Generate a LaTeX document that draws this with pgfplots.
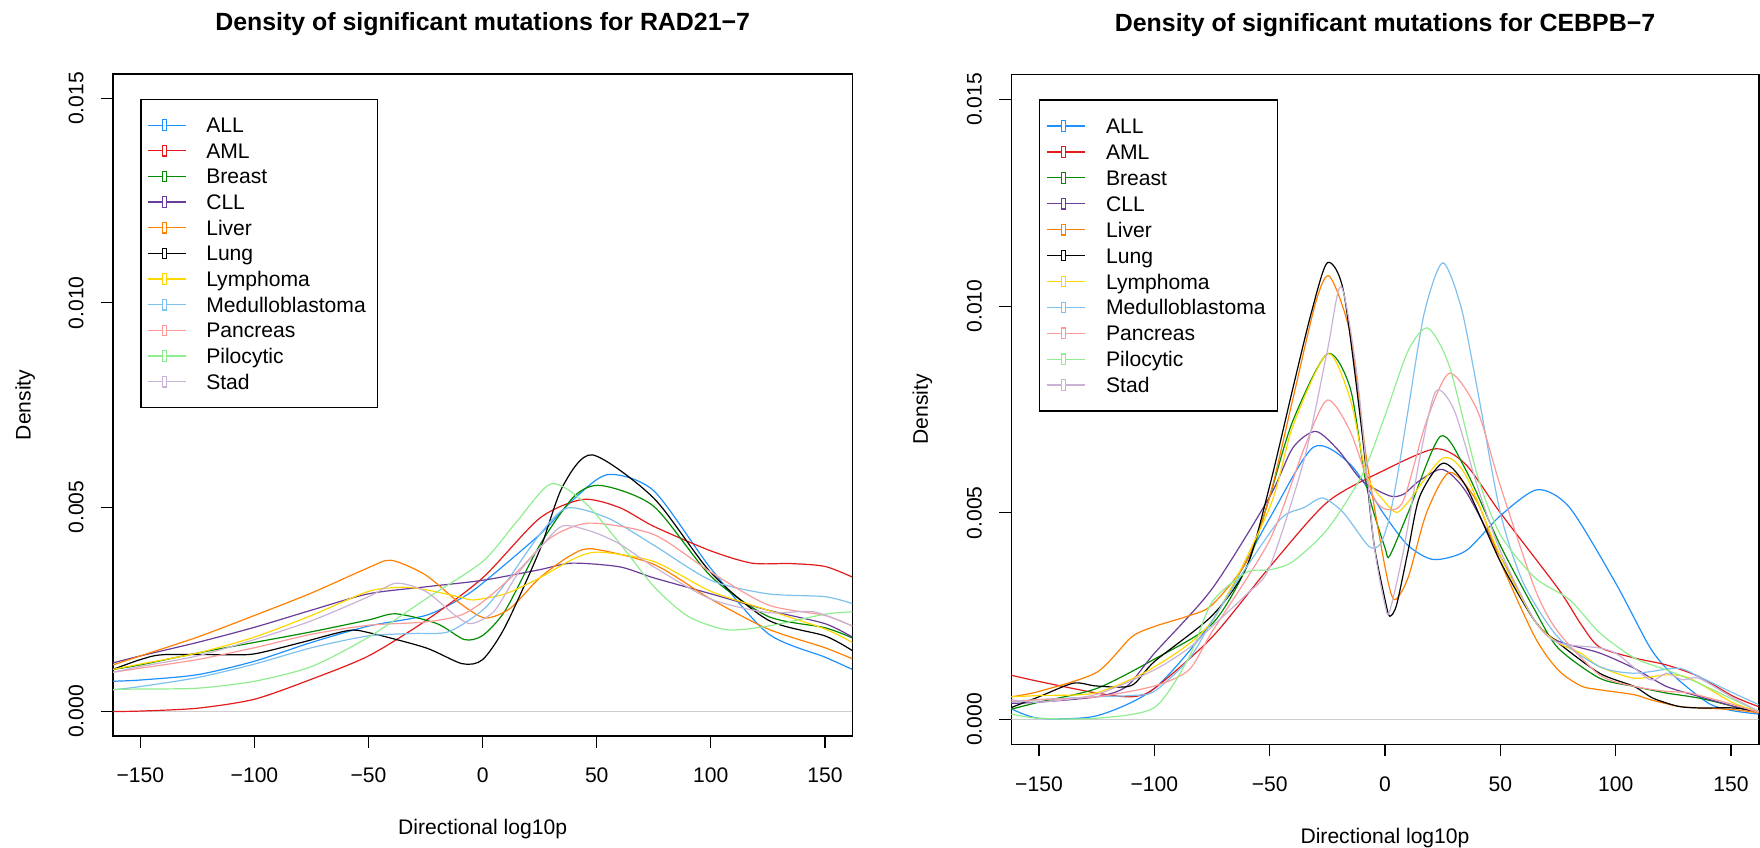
\documentclass[border=0pt]{standalone}
\usepackage{pgfplots}
\pgfplotsset{compat=1.18}
\usepackage{fontspec}
\setmainfont{Liberation Sans}

\definecolor{cALL}{RGB}{30,144,255}
\definecolor{cAML}{RGB}{228,26,28}
\definecolor{cBreast}{RGB}{0,139,0}
\definecolor{cCLL}{RGB}{106,61,154}
\definecolor{cLiver}{RGB}{255,127,0}
\definecolor{cLung}{RGB}{0,0,0}
\definecolor{cLymph}{RGB}{255,215,0}
\definecolor{cMed}{RGB}{126,192,238}
\definecolor{cPanc}{RGB}{251,154,153}
\definecolor{cPilo}{RGB}{144,238,144}
\definecolor{cStad}{RGB}{202,178,214}
\definecolor{zeroline}{RGB}{205,205,205}

\newcommand{\lblfont}{\fontsize{10.55}{12}\selectfont}

\pgfplotsset{
  rpanel/.style={
    scale only axis,
    xmin=-162, xmax=162, ymin=-0.0006, ymax=0.0156,
    axis line style={line width=0.8pt},
    xtick={-150,-100,-50,0,50,100,150},
    xticklabels={−150,−100,−50,0,50,100,150},
    ytick={0,0.005,0.01,0.015},
    yticklabels={0.000,0.005,0.010,0.015},
    scaled y ticks=false, scaled x ticks=false,
    xtick pos=bottom, ytick pos=left,
    tick align=outside,
    major tick length=6pt,
    tick style={line width=0.6pt, black},
    every tick label/.append style={font=\lblfont, inner sep=0pt},
    xticklabel style={anchor=base},
    xlabel={Directional log10p},
    ylabel={Density},
    label style={font=\lblfont},
    title style={font=\fontsize{12.45}{14}\selectfont\bfseries, at={(0.5,1)}, anchor=base, inner sep=0pt, yshift=15.8pt},
    legend cell align=left,
    legend image code/.code={
      \draw[##1, line width=0.6pt] (0pt,0pt) -- (19.2pt,0pt);
      \draw[##1, line width=0.6pt, fill=white] (7.35pt,-2.62pt) rectangle (9.25pt,2.62pt);
    },
    every axis plot/.append style={line width=0.6pt, smooth, tension=0.45},
  }
}

\begin{document}
\begin{tikzpicture}
\useasboundingbox (0,0) rectangle (880pt,423.5pt);

% ---------------- Left panel ----------------
\begin{axis}[rpanel,
  at={(56.5pt,55.5pt)}, anchor=south west,
  width=369.65pt, height=331pt,
  title={Density of significant mutations for RAD21−7},
  xticklabel style={yshift=-17.3pt},
  yticklabel style={rotate=90, anchor=base, yshift=8.85pt},
  xlabel style={at={(axis description cs:0.5,0)}, anchor=base, inner sep=0pt, yshift=-49.1pt},
  ylabel style={at={(axis description cs:0,0.5)}, rotate=0, anchor=base, inner sep=0pt, yshift=41.2pt},
  legend style={at={(0.037037,0.962963)}, anchor=north west, draw=black, line width=0.6pt,
    inner xsep=3.2pt, inner ysep=6.58pt, row sep=0pt, column sep=9.65pt, font=\lblfont,
    nodes={inner sep=0pt, text height=10.19pt, text depth=2.64pt, text width=82.3pt, align=left}},
]
\addplot[zeroline, line width=0.6pt, forget plot, sharp plot] coordinates {(-162,0) (162,0)};
\addplot[cALL] coordinates {(-162,0.00074)(-150,0.00077)(-125,0.0009)(-100,0.00123)(-75,0.00169)(-50,0.00209)(-25,0.00235)(-10,0.00275)(0,0.00314)(25,0.00433)(40,0.0052)(55,0.0058)(75,0.0054)(100,0.0035)(125,0.00191)(150,0.00133)(162,0.00103)};
\addlegendentry{ALL}
\addplot[cAML] coordinates {(-162,0.0)(-150,0.00001)(-125,0.00008)(-100,0.0003)(-75,0.00079)(-50,0.00136)(-25,0.00222)(0,0.00327)(25,0.00473)(44,0.00519)(60,0.00499)(75,0.00453)(100,0.00393)(118,0.00363)(135,0.00362)(150,0.00355)(162,0.00329)};
\addlegendentry{AML}
\addplot[cBreast] coordinates {(-162,0.00103)(-150,0.00114)(-125,0.00143)(-100,0.00169)(-75,0.00195)(-50,0.00224)(-38,0.00239)(-20,0.00215)(-8,0.00176)(0,0.00186)(10,0.00248)(25,0.00407)(40,0.00526)(52,0.00553)(75,0.00502)(100,0.00331)(125,0.00233)(150,0.00205)(162,0.0018)};
\addlegendentry{Breast}
\addplot[cCLL] coordinates {(-162,0.00119)(-150,0.00136)(-125,0.00169)(-100,0.00206)(-75,0.00248)(-50,0.00288)(-25,0.00305)(0,0.00321)(25,0.00347)(39,0.00363)(60,0.00354)(75,0.00327)(100,0.00288)(125,0.00248)(150,0.00215)(162,0.00182)};
\addlegendentry{CLL}
\addplot[cLiver] coordinates {(-162,0.00114)(-150,0.00136)(-125,0.00182)(-100,0.00235)(-75,0.0029)(-50,0.00352)(-40,0.0037)(-25,0.00334)(-10,0.00265)(1,0.00229)(12,0.00252)(25,0.00327)(38,0.0038)(48,0.00398)(75,0.0036)(100,0.00275)(125,0.00202)(150,0.00156)(162,0.00129)};
\addlegendentry{Liver}
\addplot[cLung] coordinates {(-162,0.00103)(-150,0.00127)(-140,0.00139)(-113,0.00139)(-100,0.00141)(-80,0.00168)(-59,0.00198)(-50,0.00193)(-25,0.00156)(-9,0.00117)(0,0.00127)(10,0.00209)(25,0.00395)(35,0.0055)(48,0.00628)(75,0.00522)(100,0.0034)(125,0.00224)(150,0.00185)(162,0.00149)};
\addlegendentry{Lung}
\addplot[cLymph] coordinates {(-162,0.00103)(-150,0.00116)(-125,0.00143)(-100,0.00182)(-75,0.00235)(-50,0.00294)(-35,0.00304)(-25,0.00298)(-10,0.0028)(-4,0.00273)(10,0.00288)(25,0.00327)(40,0.00374)(51,0.0039)(75,0.00367)(100,0.00294)(125,0.00248)(150,0.00202)(162,0.00169)};
\addlegendentry{Lymphoma}
\addplot[cMed] coordinates {(-162,0.00053)(-150,0.00061)(-125,0.00083)(-100,0.00116)(-75,0.00156)(-50,0.00185)(-30,0.00191)(-15,0.00195)(0,0.00248)(10,0.00314)(25,0.00433)(37,0.00498)(55,0.00473)(75,0.00407)(100,0.00321)(125,0.00288)(150,0.00281)(162,0.00264)};
\addlegendentry{Medulloblastoma}
\addplot[cPanc] coordinates {(-162,0.00096)(-150,0.00106)(-125,0.00127)(-100,0.00156)(-75,0.00189)(-50,0.00211)(-25,0.00219)(-10,0.00235)(0,0.00268)(15,0.00341)(30,0.00426)(47,0.00461)(75,0.00433)(100,0.00341)(125,0.00261)(150,0.00235)(162,0.00209)};
\addlegendentry{Pancreas}
\addplot[cPilo] coordinates {(-162,0.00054)(-150,0.00055)(-125,0.00057)(-100,0.00074)(-75,0.0011)(-50,0.00182)(-25,0.00275)(0,0.00367)(15,0.00465)(30,0.00557)(45,0.0051)(60,0.00412)(75,0.00306)(90,0.00233)(107,0.002)(125,0.00209)(150,0.00238)(162,0.00244)};
\addlegendentry{Pilocytic}
\addplot[cStad] coordinates {(-162,0.00096)(-150,0.0011)(-125,0.00136)(-100,0.00176)(-75,0.00222)(-50,0.00281)(-38,0.00314)(-25,0.00294)(-12,0.00235)(-5,0.00215)(5,0.00245)(15,0.00334)(25,0.004)(35,0.00454)(48,0.0044)(60,0.0041)(75,0.00354)(100,0.00275)(125,0.00242)(145,0.00244)(162,0.00209)};
\addlegendentry{Stad}
\end{axis}

% ---------------- Right panel ----------------
\begin{axis}[rpanel,
  at={(505.65pt,51.35pt)}, anchor=south west,
  width=373.7pt, height=334.8pt,
  title={Density of significant mutations for CEBPB−7},
  xticklabel style={yshift=-17.8pt},
  yticklabel style={rotate=90, anchor=base, yshift=8.8pt},
  xlabel style={at={(axis description cs:0.5,0)}, anchor=base, inner sep=0pt, yshift=-49.75pt},
  ylabel style={at={(axis description cs:0,0.5)}, rotate=0, anchor=base, inner sep=0pt, yshift=41.7pt},
  legend style={at={(0.037037,0.962963)}, anchor=north west, draw=black, line width=0.6pt,
    inner xsep=3.3pt, inner ysep=6.52pt, row sep=0pt, column sep=10.15pt, font=\lblfont,
    nodes={inner sep=0pt, text height=10.25pt, text depth=2.7pt, text width=82.55pt, align=left}},
]
\addplot[zeroline, line width=0.6pt, forget plot, sharp plot] coordinates {(-162,0) (162,0)};
\addplot[cALL] coordinates {(-162,0.00026)(-150,0.00003)(-125,0.00009)(-100,0.00075)(-75,0.00238)(-50,0.00487)(-31,0.00659)(-15,0.00617)(0,0.00493)(10,0.00421)(21,0.00387)(35,0.00408)(50,0.00493)(66,0.00556)(80,0.00513)(100,0.0033)(115,0.00173)(125,0.00107)(140,0.0004)(150,0.00022)(162,0.00013)};
\addlegendentry{ALL}
\addplot[cAML] coordinates {(-162,0.00107)(-150,0.00092)(-125,0.00064)(-110,0.00055)(-100,0.00075)(-75,0.00199)(-50,0.00369)(-25,0.00526)(0,0.00604)(22,0.00655)(35,0.00617)(50,0.005)(75,0.00317)(85,0.0023)(93,0.00175)(108,0.00149)(122,0.00132)(136,0.00104)(151,0.00056)(162,0.00031)};
\addlegendentry{AML}
\addplot[cBreast] coordinates {(-162,0.00025)(-150,0.00042)(-125,0.00075)(-100,0.00146)(-75,0.00231)(-60,0.00369)(-50,0.00539)(-40,0.00722)(-25,0.00885)(-15,0.008)(-8,0.00565)(0,0.00415)(2,0.00396)(10,0.005)(24,0.00685)(35,0.00604)(50,0.00421)(65,0.00264)(75,0.00173)(93,0.001)(108,0.0008)(122,0.00064)(136,0.00052)(151,0.00032)(162,0.00016)};
\addlegendentry{Breast}
\addplot[cCLL] coordinates {(-162,0.00039)(-150,0.00042)(-125,0.00055)(-112,0.0008)(-100,0.0016)(-75,0.00316)(-50,0.00539)(-40,0.00657)(-30,0.00697)(-20,0.0065)(-10,0.00578)(2,0.00541)(8,0.00545)(15,0.00578)(25,0.00605)(35,0.00552)(50,0.00395)(65,0.00238)(75,0.0019)(93,0.00161)(108,0.00124)(122,0.0008)(136,0.00056)(151,0.00032)(162,0.00016)};
\addlegendentry{CLL}
\addplot[cLiver] coordinates {(-162,0.00055)(-150,0.00068)(-125,0.00114)(-110,0.00199)(-100,0.00225)(-85,0.00251)(-75,0.00277)(-60,0.00382)(-50,0.00539)(-40,0.00774)(-30,0.0101)(-24,0.01072)(-15,0.00931)(-8,0.0063)(0,0.00369)(4,0.0029)(10,0.00343)(18,0.005)(28,0.00598)(40,0.00526)(50,0.00382)(65,0.00199)(75,0.0012)(85,0.00081)(93,0.00072)(108,0.0006)(115,0.00048)(127,0.00032)(136,0.00028)(151,0.00024)(162,0.00016)};
\addlegendentry{Liver}
\addplot[cLung] coordinates {(-162,0.00029)(-150,0.00055)(-135,0.00088)(-125,0.00081)(-110,0.00082)(-100,0.0014)(-75,0.00251)(-60,0.00369)(-50,0.00565)(-40,0.008)(-32,0.00983)(-25,0.01105)(-18,0.01036)(-10,0.00696)(-5,0.00434)(0,0.0029)(2,0.0025)(5,0.00277)(10,0.00408)(15,0.00539)(25,0.0062)(35,0.00565)(50,0.00382)(65,0.00238)(75,0.00186)(93,0.00112)(108,0.0008)(116,0.00052)(127,0.00032)(136,0.00028)(151,0.00028)(162,0.0002)};
\addlegendentry{Lung}
\addplot[cLymph] coordinates {(-162,0.00055)(-150,0.00058)(-125,0.00065)(-100,0.00127)(-75,0.00238)(-50,0.00513)(-40,0.00709)(-25,0.00885)(-15,0.00774)(-8,0.00591)(0,0.00526)(5,0.00501)(10,0.00526)(25,0.00632)(35,0.00591)(50,0.00395)(65,0.00238)(75,0.00186)(85,0.0016)(93,0.00128)(108,0.001)(122,0.00108)(132,0.001)(151,0.0004)(162,0.0002)};
\addlegendentry{Lymphoma}
\addplot[cMed] coordinates {(-162,0.00042)(-150,0.00048)(-125,0.00055)(-110,0.00058)(-100,0.00068)(-85,0.00146)(-75,0.00238)(-60,0.00369)(-45,0.00487)(-35,0.00513)(-27,0.00536)(-18,0.005)(-7,0.00419)(-2,0.00425)(2,0.0049)(6,0.0061)(10,0.00748)(17,0.00983)(25,0.01105)(33,0.00997)(40,0.008)(50,0.005)(60,0.0033)(75,0.00199)(93,0.00128)(108,0.00112)(127,0.00124)(136,0.00104)(151,0.00064)(162,0.00036)};
\addlegendentry{Medulloblastoma}
\addplot[cPanc] coordinates {(-162,0.00044)(-150,0.00048)(-125,0.00055)(-100,0.00081)(-85,0.0012)(-75,0.00212)(-50,0.00434)(-35,0.00657)(-25,0.00773)(-15,0.00696)(-5,0.00539)(1,0.00508)(8,0.0053)(18,0.00722)(28,0.00838)(40,0.00748)(50,0.00565)(65,0.00316)(75,0.00212)(93,0.00108)(108,0.0008)(122,0.00068)(132,0.00064)(151,0.00036)(162,0.00017)};
\addlegendentry{Pancreas}
\addplot[cPilo] coordinates {(-162,0.00013)(-150,0.00003)(-125,0.00003)(-100,0.00029)(-85,0.0015)(-75,0.00284)(-60,0.00356)(-50,0.00362)(-40,0.00382)(-25,0.0046)(-10,0.00591)(0,0.00735)(10,0.00892)(18.6,0.00947)(28,0.00853)(40,0.00591)(50,0.00447)(65,0.00343)(80,0.0029)(93,0.0021)(108,0.00149)(122,0.0012)(136,0.00088)(151,0.00048)(162,0.0002)};
\addlegendentry{Pilocytic}
\addplot[cStad] coordinates {(-162,0.00048)(-150,0.00042)(-125,0.00061)(-100,0.0012)(-85,0.00173)(-75,0.00225)(-60,0.00303)(-50,0.00369)(-35,0.0063)(-25,0.00892)(-19,0.01048)(-12,0.00827)(-5,0.00434)(0,0.00277)(2,0.00262)(8,0.00408)(15,0.0063)(22,0.00794)(30,0.00748)(40,0.00565)(50,0.00408)(65,0.00238)(75,0.00186)(93,0.00173)(101,0.00157)(115,0.00096)(122,0.00112)(129,0.00096)(136,0.001)(151,0.00052)(162,0.0002)};
\addlegendentry{Stad}
\end{axis}
\end{tikzpicture}
\end{document}
